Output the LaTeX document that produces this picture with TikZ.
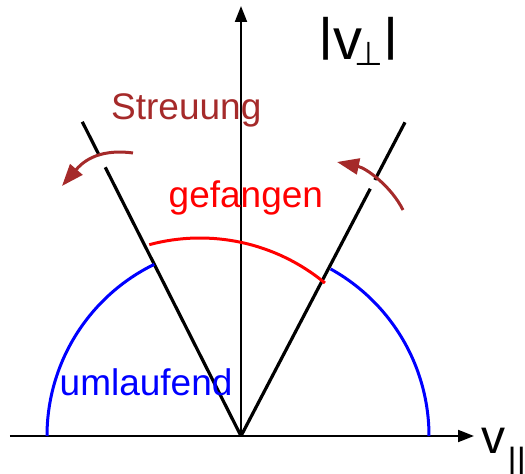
\documentclass[tikz,border=0pt]{standalone}
\usepackage{graphicx}
\usepackage{fontspec}
\setmainfont{Liberation Sans}
\newfontfamily\symbfont{DejaVu Sans}
\usetikzlibrary{arrows.meta}
\definecolor{streubraun}{RGB}{165,42,42}
\newcommand{\tallbar}{\raisebox{0.166em}{\scalebox{1}[0.79]{|}}}
\tikzset{
  achse/.style={line width=2pt,-{Triangle[length=16pt,width=12pt]}},
  kegel/.style={line width=3.2pt},
  streupfeil/.style={streubraun,line width=3pt,-{Triangle[length=22pt,width=16pt]}},
  beschriftung/.style={font=\fontsize{37}{40}\selectfont,inner sep=0pt,anchor=base west},
}
\begin{document}
\begin{tikzpicture}[x=1pt,y=1pt]
  \useasboundingbox (-241,-38) rectangle (284,436);
  \coordinate (O) at (0,0);
  \coordinate (xanf) at (-231,0);
  \coordinate (xend) at (233,0);
  \coordinate (yend) at (0,430);
  \coordinate (lo1) at (116.8:301);
  \coordinate (lo2) at (116.8:315);
  \coordinate (lo3) at (116.8:352);
  \coordinate (ro1) at (62.4:279);
  \coordinate (ro2) at (62.4:289);
  \coordinate (ro3) at (62.4:354);
  \draw[achse] (xanf) -- (xend);
  \draw[achse] (O) -- (yend);
  \draw[kegel] (O) -- (lo1) (lo2) -- (lo3);
  \draw[kegel] (O) -- (ro1) (ro2) -- (ro3);
  \draw[blue,line width=3pt] (-3,0) ++(180:191) arc[start angle=180,end angle=116,radius=191];
  \draw[blue,line width=3pt] (-3,0) ++(61:191) arc[start angle=61,end angle=0,radius=191];
  \draw[red,line width=3pt] (-41,2) ++(105:196) arc[start angle=105,end angle=50.4,radius=196];
  \coordinate (sl1) at (-108,283);
  \coordinate (sl2) at (-179,250);
  \coordinate (sr1) at (162,226);
  \coordinate (sr2) at (96,274);
  \draw[streupfeil] (sl1) .. controls (-145,288) and (-160,272) .. (sl2);
  \draw[streupfeil] (sr1) .. controls (150,250) and (125,268) .. (sr2);
  \node[beschriftung,streubraun] (streuung) at (-130,316) {Streuung};
  \node[beschriftung,red] (gefangen) at (-72.5,228) {gefangen};
  \node[beschriftung,blue] (umlaufend) at (-181.5,40) {umlaufend};
  \node[beschriftung,font=\fontsize{58}{60}\selectfont] (vsenk) at (77,376)
    {\tallbar v\kern-8pt\raisebox{-6pt}{\fontsize{33}{33}\symbfont ⊥}\kern0pt\tallbar};
  \node[beschriftung,font=\fontsize{48}{50}\selectfont] (vpar) at (240,-17)
    {v\kern2.5pt\raisebox{-19.5pt}{\fontsize{35}{35}\selectfont||}};
\end{tikzpicture}
\end{document}
